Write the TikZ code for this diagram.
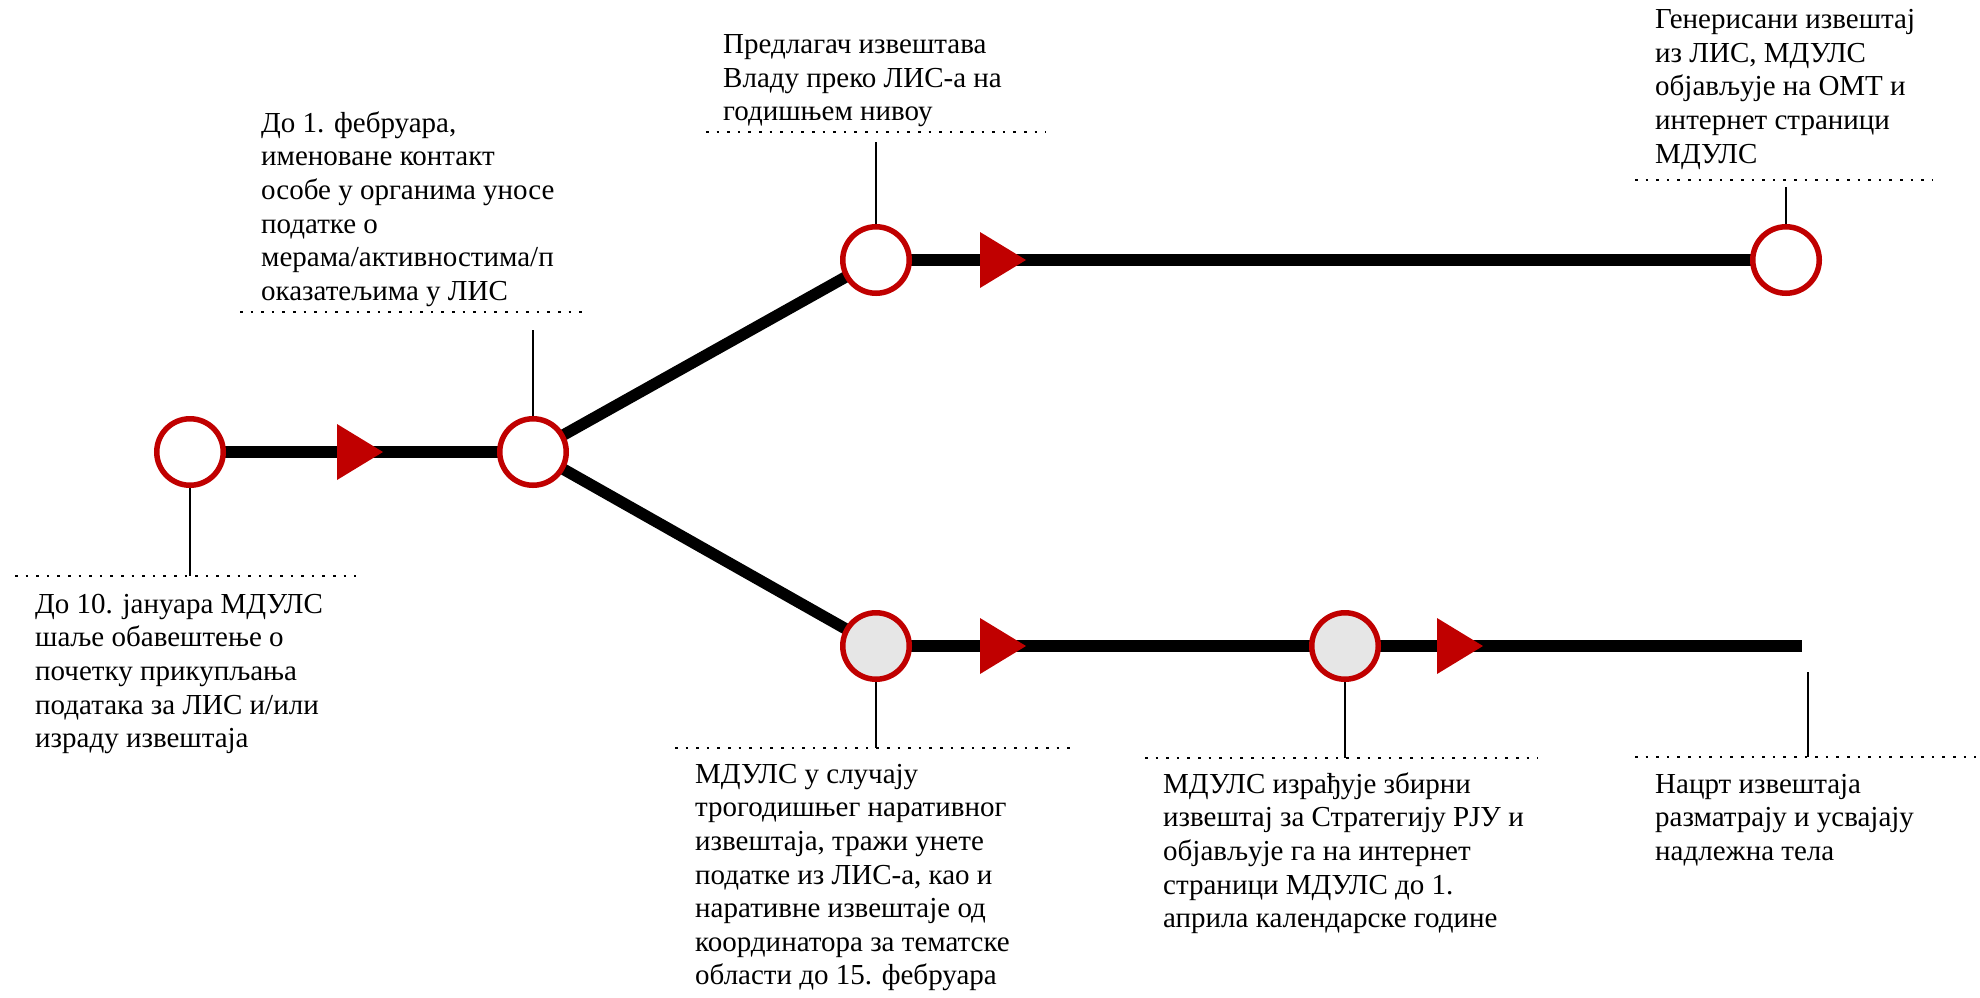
\documentclass[tikz,border=0pt]{standalone}
\usepackage{fontspec}
\setmainfont{Liberation Serif}
\pgfdeclarelayer{bg}
\pgfsetlayers{bg,main}
\definecolor{dred}{RGB}{192,0,0}
\definecolor{cgray}{RGB}{230,230,230}
\begin{document}
\begin{tikzpicture}[x=1pt,y=-1pt,
  stop/.style={circle, draw=dred, line width=5.5pt, fill=white, minimum size=66.5pt, inner sep=0pt},
  graystop/.style={stop, fill=cgray},
  track/.style={line width=11.5pt, black},
  tri/.style={fill=dred},
  dotline/.style={line width=2.6pt, dash pattern=on 2.6pt off 8pt},
  lead/.style={line width=1.4pt},
  lbl/.style={anchor=north west, inner sep=0pt, align=left, font=\fontsize{29}{33.6}\selectfont}
]
\useasboundingbox (0,0) rectangle (1980,997);

% stops
\node[stop] (c1) at (190,452) {};
\node[stop] (c2) at (533,452) {};
\node[stop] (c3) at (876,260) {};
\node[stop] (c4) at (1786,260) {};
\node[graystop] (c5) at (876,646) {};
\node[graystop] (c6) at (1345,646) {};
\coordinate (e) at (1802,646);

% tracks
\begin{pgfonlayer}{bg}
\draw[track] (c1.center) -- (c2.center);
\draw[track] (c2.center) -- (c3.center);
\draw[track] (c2.center) -- (c5.center);
\draw[track] (c3.center) -- (c4.center);
\draw[track] (c5.center) -- (c6.center);
\draw[track] (c6.center) -- (e);
\end{pgfonlayer}

% arrowheads
\fill[tri] (337,424) -- (383,452) -- (337,480) -- cycle;
\fill[tri] (980,232) -- (1026,260) -- (980,288) -- cycle;
\fill[tri] (980,618) -- (1026,646) -- (980,674) -- cycle;
\fill[tri] (1437,618) -- (1483,646) -- (1437,674) -- cycle;

% dotted rules
\draw[dotline] (15,576) -- (356,576);
\draw[dotline] (240,312) -- (583,312);
\draw[dotline] (706,132) -- (1046,132);
\draw[dotline] (1635,180) -- (1932,180);
\draw[dotline] (675,748) -- (1071,748);
\draw[dotline] (1145,758) -- (1538,758);
\draw[dotline] (1635,757) -- (1976,757);

% leader ends
\coordinate (k1) at (190,576);
\coordinate (k2) at (533,330);
\coordinate (k3) at (876,142);
\coordinate (k4) at (1786,187);
\coordinate (k5) at (876,748);
\coordinate (k6) at (1345,758);
\coordinate (k7t) at (1808,672);
\coordinate (k7) at (1808,757);

\draw[lead] (c1.south) -- (k1);
\draw[lead] (c2.north) -- (k2);
\draw[lead] (c3.north) -- (k3);
\draw[lead] (c4.north) -- (k4);
\draw[lead] (c5.south) -- (k5);
\draw[lead] (c6.south) -- (k6);
\draw[lead] (k7t) -- (k7);

% labels (top = first baseline - 23.5)
\node[lbl] (t1) at (35,589.5) {\strut До 10. јануара МДУЛС\\шаље обавештење о\\почетку прикупљања\\података за ЛИС и/или\\израду извештаја};
\node[lbl] (t2) at (261,108.5) {\strut До 1. фебруара,\\именоване контакт\\особе у органима уносе\\податке о\\мерама/активностима/п\\оказатељима у ЛИС};
\node[lbl] (t3) at (723,30) {\strut Предлагач извештава\\Владу преко ЛИС-а на\\годишњем нивоу};
\node[lbl] (t4) at (1655,5) {\strut Генерисани извештај\\из ЛИС, МДУЛС\\објављује на ОМТ и\\интернет страници\\МДУЛС};
\node[lbl] (t5) at (695,759.5) {\strut МДУЛС у случају\\трогодишњег наративног\\извештаја, тражи унете\\податке из ЛИС-а, као и\\наративне извештаје од\\координатора за тематске\\области до 15. фебруара};
\node[lbl] (t6) at (1163,769.5) {\strut МДУЛС израђује збирни\\извештај за Стратегију РЈУ и\\објављује га на интернет\\страници МДУЛС до 1.\\априла календарске године};
\node[lbl] (t7) at (1655,769.5) {\strut Нацрт извештаја\\разматрају и усвајају\\надлежна тела};
\end{tikzpicture}
\end{document}
